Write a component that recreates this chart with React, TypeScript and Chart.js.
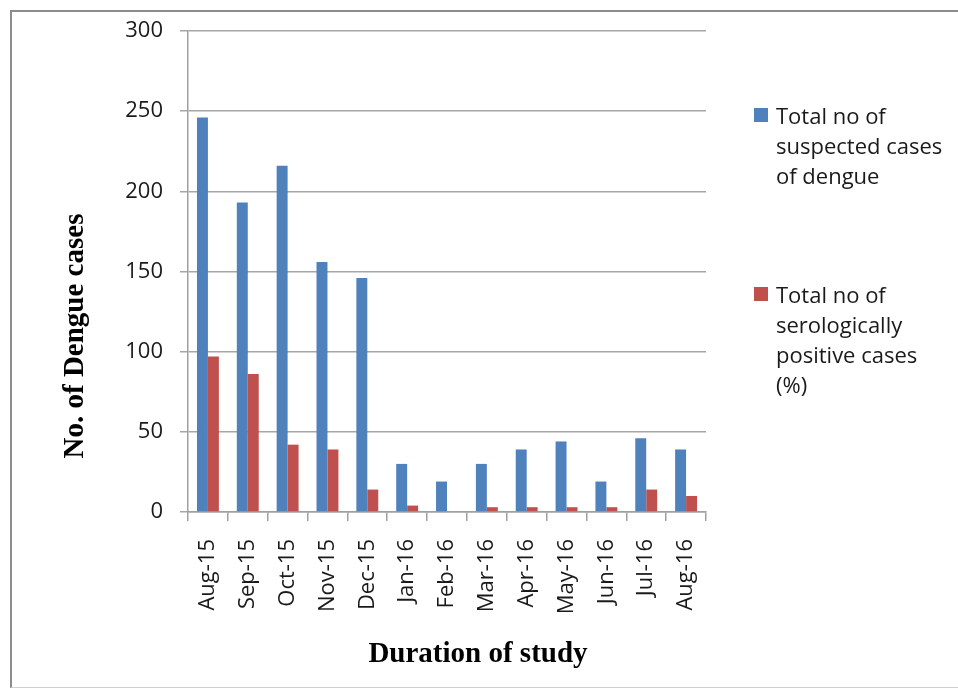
import React, { useEffect, useRef } from "react";
import { Chart, registerables } from "chart.js";

Chart.register(...registerables);

const categories = ["Aug-15", "Sep-15", "Oct-15", "Nov-15", "Dec-15", "Jan-16", "Feb-16", "Mar-16", "Apr-16", "May-16", "Jun-16", "Jul-16", "Aug-16"];
const suspectedCases = [246, 193, 216, 156, 146, 30, 19, 30, 39, 44, 19, 46, 39];
const positiveCases = [97, 86, 42, 39, 14, 4, 0, 3, 3, 3, 3, 14, 10];
const yTickValues = [0, 50, 100, 150, 200, 250, 300];
const seriesNames = ["Total no of suspected cases of dengue", "Total no of serologically positive cases (%)"];
const legendLines = [
  ["Total no of", "suspected cases", "of dengue"],
  ["Total no of", "serologically", "positive cases", "(%)"],
];
const seriesColors = ["#4F81BD", "#C0504D"];
const xTitle = "Duration of study";
const yTitle = "No. of Dengue cases";

const tickFont = "Open Sans";
const titleFont = "Liberation Serif";

const decorPlugin = {
  id: "decor",
  afterDraw(chart: any) {
    const { ctx, chartArea } = chart;
    ctx.save();
    // axis titles
    ctx.fillStyle = "#000";
    ctx.font = `bold 29px "${titleFont}"`;
    ctx.textAlign = "center";
    ctx.textBaseline = "alphabetic";
    ctx.fillText(xTitle, chartArea.left + 290, chartArea.bottom + 150);
    ctx.save();
    ctx.translate(chartArea.left - 112, chartArea.bottom - 176);
    ctx.rotate(-Math.PI / 2);
    ctx.textBaseline = "middle";
    ctx.fillText(yTitle, 0, 0);
    ctx.restore();
    // legend
    const lx = chartArea.right + 48;
    const tx = chartArea.right + 70;
    const tops = [chartArea.top + 77, chartArea.top + 256];
    ctx.font = `22px "${tickFont}"`;
    ctx.textAlign = "left";
    ctx.textBaseline = "alphabetic";
    legendLines.forEach((lines, i) => {
      ctx.fillStyle = seriesColors[i];
      ctx.fillRect(lx, tops[i], 14, 14);
      ctx.fillStyle = "#1a1a1a";
      lines.forEach((line, j) => {
        ctx.fillText(line, tx, tops[i] + 16 + j * 30);
      });
    });
    ctx.restore();
  },
};

export default function App() {
  const ref = useRef<HTMLCanvasElement>(null);
  useEffect(() => {
    if (!ref.current) return;
    const chart = new Chart(ref.current, {
      type: "bar",
      data: {
        labels: categories,
        datasets: [
          {
            label: seriesNames[0],
            data: suspectedCases,
            backgroundColor: seriesColors[0],
            borderWidth: 0,
            barPercentage: 1,
            categoryPercentage: 0.55,
          },
          {
            label: seriesNames[1],
            data: positiveCases,
            backgroundColor: seriesColors[1],
            borderWidth: 0,
            barPercentage: 1,
            categoryPercentage: 0.55,
          },
        ],
      },
      options: {
        responsive: false,
        animation: false,
        layout: { padding: { left: 0, right: 252, top: 31, bottom: 0 } },
        plugins: {
          legend: { display: false },
          tooltip: { enabled: false },
          title: { display: false },
        },
        scales: {
          x: {
            grid: {
              display: true,
              drawOnChartArea: false,
              drawTicks: true,
              tickLength: 9,
              color: "#a0a0a0",
              lineWidth: 1.5,
              offset: true,
            },
            border: { display: true, color: "#a0a0a0", width: 1.5 },
            ticks: {
              autoSkip: false,
              maxRotation: 90,
              minRotation: 90,
              padding: 18,
              color: "#1a1a1a",
              font: { family: tickFont, size: 22 },
            },
            afterFit(scale: any) {
              scale.height = 176;
            },
          },
          y: {
            min: 0,
            max: 300,
            afterBuildTicks(scale: any) {
              scale.ticks = yTickValues.map((v) => ({ value: v }));
            },
            grid: {
              color: "#a6a6a6",
              lineWidth: 1.5,
              drawTicks: true,
              tickLength: 8,
            },
            border: { display: true, color: "#a0a0a0", width: 1.5 },
            ticks: {
              padding: 17,
              color: "#1a1a1a",
              font: { family: tickFont, size: 22 },
            },
            afterFit(scale: any) {
              scale.width = 188;
            },
          },
        },
      },
      plugins: [decorPlugin],
    });
    return () => chart.destroy();
  }, []);

  return (
    <div style={{ position: "fixed", left: 0, top: 0, width: 958, height: 688, background: "#fff" }}>
      <div
        style={{
          position: "absolute",
          left: 10,
          top: 10,
          width: 960,
          height: 675,
          borderLeft: "2px solid #8c8c8c",
          borderTop: "2px solid #8c8c8c",
          borderBottom: "1px solid #d0d0d0",
        }}
      />
      <canvas ref={ref} width={958} height={688} style={{ position: "absolute", left: 0, top: 0, width: 958, height: 688 }} />
    </div>
  );
}
